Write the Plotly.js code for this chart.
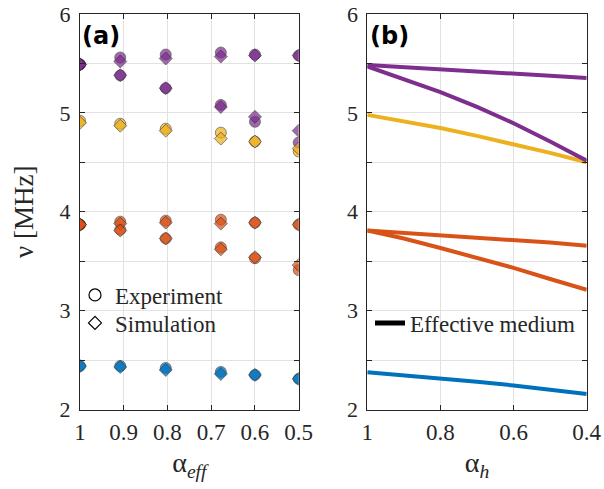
<!DOCTYPE html>
<html>
<head>
<meta charset="utf-8">
<script src="https://cdn.plot.ly/plotly-3.0.1.min.js"></script>
<style>
  html, body { margin: 0; padding: 0; background: #fff; }
  #chart { width: 604px; height: 489px; }
</style>
</head>
<body>
<div id="chart"></div>
<script>
// ---------- Panel (a): experiment vs simulation ----------
const alphaEff = [1, 0.908, 0.804, 0.678, 0.6, 0.5];
const alphaEffTicks = [1, 0.9, 0.8, 0.7, 0.6, 0.5];
const alphaEffTickText = ["1", "0.9", "0.8", "0.7", "0.6", "0.5"];

const blueExp    = [2.44, 2.44, 2.42, 2.38, 2.35, 2.31];
const blueSim    = [2.44, 2.43, 2.40, 2.36, 2.35, 2.31];
const orange1Exp = [3.87, 3.90, 3.91, 3.92, 3.89, 3.87];
const orange1Sim = [3.87, 3.88, 3.89, 3.88, 3.89, 3.87];
const orange2Exp = [3.87, 3.82, 3.73, 3.64, 3.53, 3.41];
const orange2Sim = [3.87, 3.81, 3.73, 3.62, 3.54, 3.46];
const yellowExp  = [4.92, 4.89, 4.84, 4.80, 4.71, 4.61];
const yellowSim  = [4.90, 4.87, 4.82, 4.74, 4.71, 4.64];
const purple1Exp = [5.49, 5.56, 5.59, 5.61, 5.59, 5.58];
const purple1Sim = [5.49, 5.52, 5.55, 5.57, 5.58, 5.58];
const purple2Exp = [5.49, 5.38, 5.25, 5.08, 4.91, 4.70];
const purple2Sim = [5.49, 5.38, 5.25, 5.06, 4.96, 4.82];

// ---------- Panel (b): effective medium ----------
const alphaH = [1, 0.9, 0.8, 0.7, 0.6, 0.5, 0.4];
const alphaHTicks = [1, 0.8, 0.6, 0.4];
const alphaHTickText = ["1", "0.8", "0.6", "0.4"];
const bluePred    = [2.377, 2.348, 2.317, 2.280, 2.243, 2.200, 2.157];
const orange1Pred = [3.810, 3.787, 3.765, 3.741, 3.717, 3.688, 3.657];
const orange2Pred = [3.810, 3.730, 3.633, 3.535, 3.433, 3.320, 3.210];
const yellowPred  = [4.980, 4.913, 4.847, 4.767, 4.683, 4.595, 4.500];
const purple1Pred = [5.485, 5.465, 5.445, 5.422, 5.400, 5.375, 5.353];
const purple2Pred = [5.470, 5.345, 5.210, 5.060, 4.895, 4.710, 4.517];

const yTicks = [2, 3, 4, 5, 6];
const yTickText = ["2", "3", "4", "5", "6"];

const C = {
  blue: "#0072BD", orange: "#D95319", yellow: "#EDB120", purple: "#7E2F8E"
};

const modes = [
  {exp: blueExp,    sim: blueSim,    color: C.blue},
  {exp: orange1Exp, sim: orange1Sim, color: C.orange},
  {exp: orange2Exp, sim: orange2Sim, color: C.orange},
  {exp: yellowExp,  sim: yellowSim,  color: C.yellow},
  {exp: purple1Exp, sim: purple1Sim, color: C.purple},
  {exp: purple2Exp, sim: purple2Sim, color: C.purple}
];

const traces = [];
// circles (experiment) first
modes.forEach(m => traces.push({
  x: alphaEff, y: m.exp, xaxis: "x", yaxis: "y", type: "scatter", mode: "markers",
  showlegend: false, hoverinfo: "skip",
  marker: {symbol: "circle", size: 11, color: m.color, opacity: 0.72,
           line: {color: "rgba(30,30,30,0.9)", width: 0.8}}
}));
// diamonds (simulation)
modes.forEach(m => traces.push({
  x: alphaEff, y: m.sim, xaxis: "x", yaxis: "y", type: "scatter", mode: "markers",
  showlegend: false, hoverinfo: "skip",
  marker: {symbol: "diamond", size: 10, color: m.color, opacity: 0.72,
           line: {color: "rgba(30,30,30,0.9)", width: 0.8}}
}));

// legend entries for panel (a)
traces.push({
  x: [null], y: [null], xaxis: "x", yaxis: "y", type: "scatter", mode: "markers",
  name: "Experiment", legend: "legend",
  marker: {symbol: "circle-open", size: 12, color: "#000", line: {width: 1.2}}
});
traces.push({
  x: [null], y: [null], xaxis: "x", yaxis: "y", type: "scatter", mode: "markers",
  name: "Simulation", legend: "legend3",
  marker: {symbol: "diamond-open", size: 10, color: "#000", line: {width: 1.2}}
});

// panel (b) lines
[
  [bluePred, C.blue], [orange1Pred, C.orange], [orange2Pred, C.orange],
  [yellowPred, C.yellow], [purple1Pred, C.purple], [purple2Pred, C.purple]
].forEach(([ys, col]) => traces.push({
  x: alphaH, y: ys, xaxis: "x2", yaxis: "y2", type: "scatter", mode: "lines",
  showlegend: false, hoverinfo: "skip",
  line: {color: col, width: 4}
}));
traces.push({
  x: [null], y: [null], xaxis: "x2", yaxis: "y2", type: "scatter", mode: "lines",
  name: "Effective medium", legend: "legend2",
  line: {color: "#000", width: 5}
});

const serif = "Liberation Serif, Times New Roman, serif";
const axisCommon = {
  showline: true, linecolor: "#262626", linewidth: 1, mirror: "allticks",
  ticks: "inside", ticklen: 5, tickcolor: "#262626", tickwidth: 1,
  showgrid: true, gridcolor: "#e2e2e2", gridwidth: 1, zeroline: false,
  tickfont: {family: serif, size: 23, color: "#262626"}, fixedrange: true,
  ticklabeloverflow: "allow"
};
const yMinor = {dtick: 0.5, ticks: "inside", ticklen: 5, tickcolor: "#262626",
                showgrid: true, gridcolor: "#e2e2e2", gridwidth: 1};

const W = 604, H = 489;
const TOP = 14, BOTTOM = 409.5;
const legendCommon = {
  xanchor: "left", yanchor: "middle",
  bgcolor: "rgba(0,0,0,0)", borderwidth: 0,
  font: {family: serif, size: 23, color: "#262626"}
};
const layout = {
  width: W, height: H,
  margin: {l: 0, r: 0, t: 0, b: 0},
  paper_bgcolor: "#fff", plot_bgcolor: "#fff",
  font: {family: serif, color: "#262626"},
  xaxis: Object.assign({}, axisCommon, {
    domain: [80 / W, 298.7 / W], range: [1, 0.5], anchor: "y",
    tickmode: "array", tickvals: alphaEffTicks, ticktext: alphaEffTickText,
    ticklabelstandoff: 2,
    title: {text: "α<sub><i>eff</i></sub>", font: {family: serif, size: 28, color: "#262626"}, standoff: 8}
  }),
  yaxis: Object.assign({}, axisCommon, {
    domain: [1 - BOTTOM / H, 1 - TOP / H], range: [2, 6], anchor: "x",
    tickmode: "array", tickvals: yTicks, ticktext: yTickText, minor: yMinor,
    tickfont: {family: serif, size: 22, color: "#262626"},
    ticklabelstandoff: 4,
    title: {text: "ν [MHz]", font: {family: serif, size: 27, color: "#262626"}, standoff: 18}
  }),
  xaxis2: Object.assign({}, axisCommon, {
    domain: [367.3 / W, 586.7 / W], range: [1, 0.4], anchor: "y2",
    tickmode: "array", tickvals: alphaHTicks, ticktext: alphaHTickText,
    ticklabelstandoff: 2,
    title: {text: "α<sub><i>h</i></sub>", font: {family: serif, size: 28, color: "#262626"}, standoff: 8}
  }),
  yaxis2: Object.assign({}, axisCommon, {
    domain: [1 - BOTTOM / H, 1 - TOP / H], range: [2, 6], anchor: "x2",
    tickmode: "array", tickvals: yTicks, ticktext: yTickText, minor: yMinor,
    tickfont: {family: serif, size: 22, color: "#262626"},
    ticklabelstandoff: 4
  }),
  legend: Object.assign({}, legendCommon, {x: 75 / W, y: 1 - 295 / H}),
  legend3: Object.assign({}, legendCommon, {x: 75 / W, y: 1 - 323 / H}),
  legend2: Object.assign({}, legendCommon, {x: 370 / W, y: 1 - 323 / H}),
  annotations: [
    {text: "<b>(a)</b>", xref: "paper", yref: "paper", x: 80 / W, y: 1 - 20 / H,
     xanchor: "left", yanchor: "top", showarrow: false,
     font: {family: "DejaVu Sans", size: 24, color: "#000"}},
    {text: "<b>(b)</b>", xref: "paper", yref: "paper", x: 368 / W, y: 1 - 20 / H,
     xanchor: "left", yanchor: "top", showarrow: false,
     font: {family: "DejaVu Sans", size: 24, color: "#000"}}
  ]
};

Plotly.newPlot("chart", traces, layout, {staticPlot: true, displayModeBar: false});
</script>
</body>
</html>
